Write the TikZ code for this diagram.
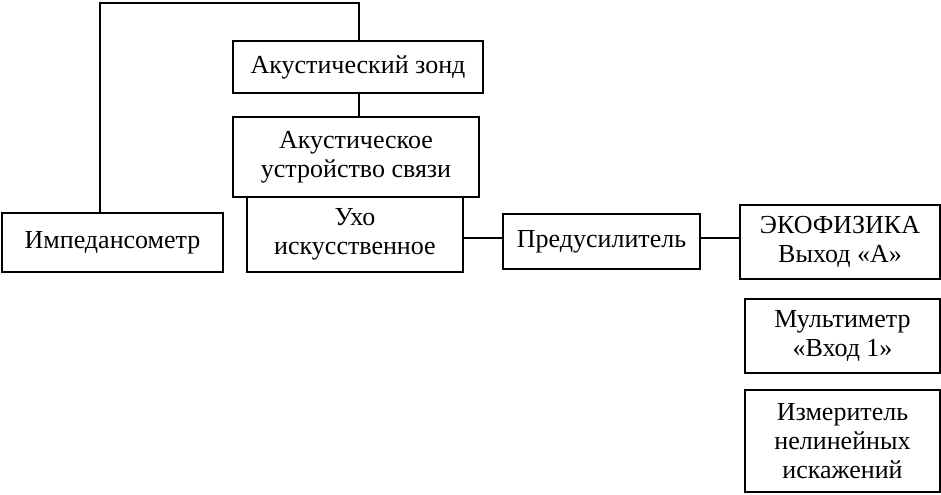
\documentclass[tikz,border=0pt]{standalone}
\usepackage{fontspec}
\setmainfont{Liberation Serif}
\tikzset{blok/.style={draw, line width=1.3pt, align=center, inner sep=0pt,
  font=\fontsize{13}{14.5}\selectfont}}
\begin{document}
\begin{tikzpicture}[x=0.5pt, y=-0.5pt, line width=1.3pt]
  \useasboundingbox (0,0) rectangle (941,494);

  \node[blok, minimum width=125pt, minimum height=26pt] (zond) at (358,67) {Акустический зонд};
  \node[blok, minimum width=123pt, minimum height=40pt] (usv) at (356,157) {Акустическое\\устройство связи};
  \node[blok, minimum width=108pt, minimum height=37.5pt] (uho) at (355,234.5) {Ухо\\искусственное};
  \node[blok, minimum width=110.5pt, minimum height=29.5pt] (imp) at (112.5,242.5) {Импедансометр};
  \node[blok, minimum width=98.5pt, minimum height=27.5pt] (pred) at (601.5,241.5) {Предусилитель};
  \node[blok, minimum width=100pt, minimum height=37pt] (eko) at (840,242) {ЭКОФИЗИКА\\Выход «А»};
  \node[blok, minimum width=97.5pt, minimum height=37pt] (mult) at (842.5,336) {Мультиметр\\«Вход 1»};
  \node[blok, minimum width=97.5pt, minimum height=51pt] (izm) at (842.5,441) {Измеритель\\нелинейных\\искажений};

  \coordinate (k1) at (100,3);
  \coordinate (k2) at (359,3);
  \coordinate (row) at (0,238);

  \draw (imp.north -| k1) -- (k1) -- (k2) -- (zond.north -| k2);
  \draw (zond.south -| k2) -- (usv.north -| k2);
  \draw (uho.east |- row) -- (pred.west |- row);
  \draw (pred.east |- row) -- (eko.west |- row);

\end{tikzpicture}
\end{document}
